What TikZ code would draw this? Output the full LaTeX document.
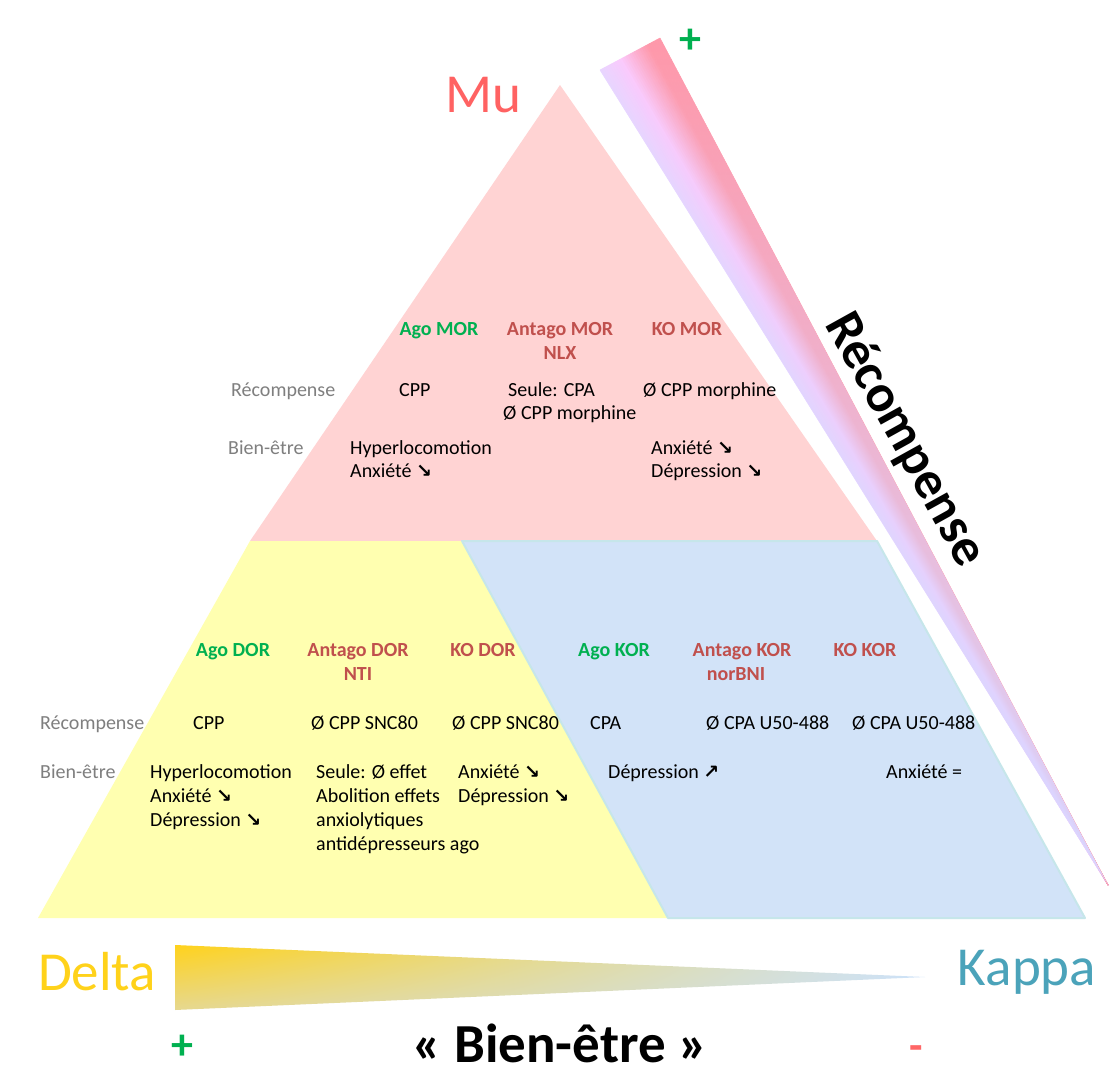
\documentclass[tikz,border=0pt]{standalone}
\usepackage{fontspec}
\setmainfont{Carlito}
\usetikzlibrary{shadings,fadings}
\newfontfamily\arrfont{DejaVu Sans}
\definecolor{pinkT}{HTML}{FFD3D3}
\definecolor{yelT}{HTML}{FFFFB0}
\definecolor{bluT}{HTML}{D2E3F8}
\definecolor{bluB}{HTML}{C6E6EA}
\definecolor{grn}{HTML}{00B050}
\definecolor{redL}{HTML}{C0504D}
\definecolor{grayL}{HTML}{7F7F7F}
\definecolor{muC}{HTML}{FF6262}
\definecolor{deltaC}{HTML}{FFD21A}
\definecolor{kappaC}{HTML}{4BA3BA}
\definecolor{minusC}{HTML}{FF6666}
\definecolor{bandL}{HTML}{E8D6FF}
\definecolor{bandM}{HTML}{FCCAFC}
\definecolor{bandR}{HTML}{FF98AA}
\definecolor{bandLo}{HTML}{D9D6FF}
\definecolor{wedUL}{HTML}{FFD21C}
\definecolor{wedLL}{HTML}{E6D890}
\definecolor{wedR}{HTML}{CDE2FA}
\tikzfading[name=bandfade,top color=transparent!100,middle color=transparent!75,bottom color=transparent!0]
\newcommand\dnarr{{\arrfont\bfseries\fontsize{19}{20}\selectfont ↘}}
\newcommand\uparr{{\arrfont\bfseries\fontsize{19}{20}\selectfont ↗}}
\newcommand\tline[4]{\node[body] (#1) at (#2,#3) {#4};}
\newcommand\gline[4]{\node[body,text=grayL] (#1) at (#2,#3) {#4};}
\newcommand\hdline[5]{\node[head,text=#5] (#1) at (#2,#3) {#4};}
\begin{document}
\begin{tikzpicture}[x=1pt,y=-1pt,
  body/.style={inner sep=0pt,anchor=base west,font=\fontsize{20}{24}\selectfont},
  head/.style={inner sep=0pt,anchor=base,font=\fontsize{20}{24}\selectfont\bfseries},
  big/.style={inner sep=0pt,font=\fontsize{55}{60}\selectfont},
  sign/.style={inner sep=0pt,font=\fontsize{44}{50}\selectfont\bfseries}]
\useasboundingbox[fill=white] (0,0) rectangle (1111,1079);
% recompense band: strips across its width
\foreach \i in {0,...,29}{
  \pgfmathsetmacro\xa{600+2*\i}
  \pgfmathsetmacro\ya{70-32*\i/30}
  \pgfmathsetmacro\xb{600+2*(\i+1)}
  \pgfmathsetmacro\yb{70-32*(\i+1)/30}
  \pgfmathsetmacro\tt{(\i+0.5)/30}
  \ifdim\tt pt<0.35pt
    \pgfmathsetmacro\pc{\tt/0.35*100}
    \colorlet{stripc}{bandM!\pc!bandL}
  \else
    \pgfmathsetmacro\pc{min(100,(\tt-0.35)/0.45*100)}
    \colorlet{stripc}{bandR!\pc!bandM}
  \fi
  \fill[stripc,draw=stripc,line width=0.5pt,line join=round] (\xa,\ya) -- (\xb,\yb) -- (1108,885) -- cycle;
}
\fill[bandLo,path fading=bandfade] (600,70) -- (660,38) -- (1108,885) -- cycle;
% Mu triangle
\fill[pinkT] (560,85) -- (877,541) -- (250,541) -- cycle;
% Delta
\fill[yelT] (250,541) -- (462,541) -- (668,918) -- (38,918) -- cycle;
% Kappa
\fill[bluT,draw=bluB,line width=2pt,line join=round] (462,541) -- (877,541) -- (1085,918) -- (668,918) -- cycle;
% bottom wedge
\shade[upper left=wedUL,lower left=wedLL,upper right=wedR,lower right=wedR]
  (175,945) -- (925,977) -- (175,1010) -- cycle;
% big labels
\node[big,text=muC] (mu) at (483,95) {Mu};
\node[big,text=deltaC] (delta) at (97,972) {Delta};
\node[big,text=kappaC] (kappa) at (1027,972) {Kappa};
\node[big,font=\fontsize{55}{60}\selectfont\bfseries] (bienetre) at (560,1043) {« Bien-être »};
\node[sign,text=grn] (plusb) at (182,1047) {+};
\node[sign,text=minusC] (minusb) at (916,1053) {-};
\node[sign,text=grn] (plust) at (690,41) {+};
\node[big,font=\fontsize{53}{60}\selectfont\bfseries,rotate=-61] (recomp) at (905,440) {Récompense};
% Mu contents
\hdline{agomor}{439}{335}{Ago MOR}{grn}
\hdline{antmor}{560}{335}{Antago MOR}{redL}
\hdline{nlx}{560}{359}{NLX}{redL}
\hdline{komor}{687}{335}{KO MOR}{redL}
\gline{rec1}{231}{396}{Récompense}
\gline{bien1}{228}{454}{Bien-être}
\tline{m11}{399}{396}{CPP}
\tline{m21}{508}{396}{Seule: CPA}
\tline{m22}{503}{419}{Ø CPP morphine}
\tline{m31}{643}{396}{Ø CPP morphine}
\tline{m12}{350}{454}{Hyperlocomotion}
\tline{m13}{350}{477}{Anxiété \dnarr}
\tline{m32}{651}{454}{Anxiété \dnarr}
\tline{m33}{651}{477}{Dépression \dnarr}
% lower contents
\hdline{agodor}{233}{656}{Ago DOR}{grn}
\hdline{antdor}{358}{656}{Antago DOR}{redL}
\hdline{nti}{358}{680}{NTI}{redL}
\hdline{kodor}{483}{656}{KO DOR}{redL}
\hdline{agokor}{614}{656}{Ago KOR}{grn}
\hdline{antkor}{742}{656}{Antago KOR}{redL}
\hdline{norbni}{736}{680}{norBNI}{redL}
\hdline{kokor}{865}{656}{KO KOR}{redL}
\gline{rec2}{40}{729}{Récompense}
\gline{bien2}{40}{778}{Bien-être}
\tline{d11}{193}{729}{CPP}
\tline{d21}{311}{729}{Ø CPP SNC80}
\tline{d31}{452}{729}{Ø CPP SNC80}
\tline{k11}{590}{729}{CPA}
\tline{k21}{706}{729}{Ø CPA U50-488}
\tline{k31}{852}{729}{Ø CPA U50-488}
\tline{d12}{150}{778}{Hyperlocomotion}
\tline{d13}{150}{802}{Anxiété \dnarr}
\tline{d14}{150}{826}{Dépression \dnarr}
\tline{d22}{316}{778}{Seule: Ø effet}
\tline{d23}{316}{802}{Abolition effets}
\tline{d24}{316}{826}{anxiolytiques}
\tline{d25}{316}{850}{antidépresseurs ago}
\tline{d32}{458}{778}{Anxiété \dnarr}
\tline{d33}{458}{802}{Dépression \dnarr}
\tline{k12}{608}{778}{Dépression \uparr}
\tline{k32}{886}{778}{Anxiété =}
\end{tikzpicture}
\end{document}
